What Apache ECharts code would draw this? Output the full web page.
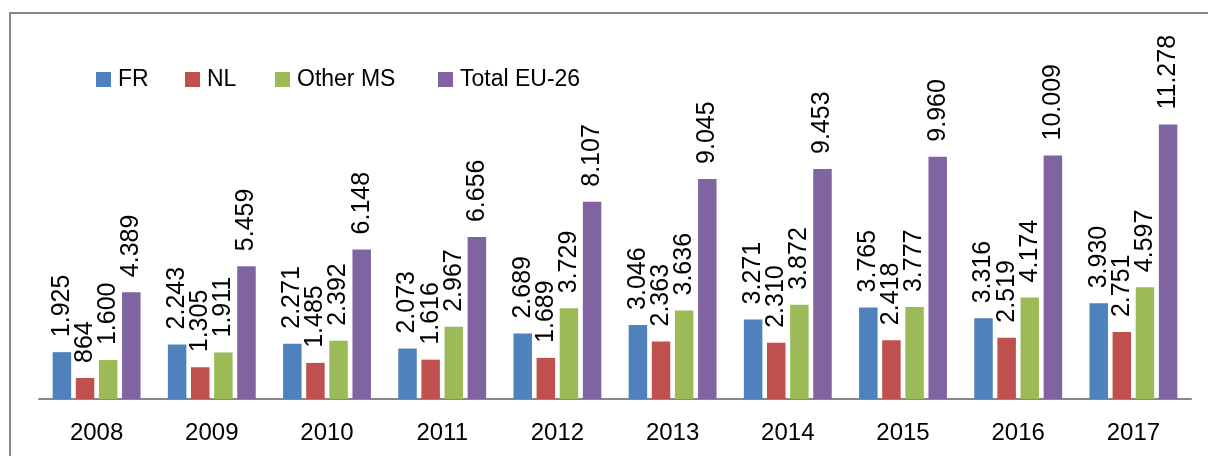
<!DOCTYPE html>
<html>
<head>
<meta charset="utf-8">
<style>
  html, body { margin: 0; padding: 0; background: #ffffff; }
  #chart { width: 1208px; height: 456px; }
</style>
<script src="https://cdn.jsdelivr.net/npm/echarts@6/dist/echarts.min.js"></script>
</head>
<body>
<div id="chart"></div>
<script>
// Years shown on the category axis
const years = ['2008', '2009', '2010', '2011', '2012', '2013', '2014', '2015', '2016', '2017'];

// Values per series
const frValues = [1925, 2243, 2271, 2073, 2689, 3046, 3271, 3765, 3316, 3930];
const nlValues = [864, 1305, 1485, 1616, 1689, 2363, 2310, 2418, 2519, 2751];
const otherMsValues = [1600, 1911, 2392, 2967, 3729, 3636, 3872, 3777, 4174, 4597];
const totalEuValues = [4389, 5459, 6148, 6656, 8107, 9045, 9453, 9960, 10009, 11278];

const seriesNames = ['FR', 'NL', 'Other MS', 'Total EU-26'];
const seriesColors = ['#4F81BD', '#C0504D', '#9BBB59', '#8064A2'];
const seriesValues = [frValues, nlValues, otherMsValues, totalEuValues];

const FONT = '"Liberation Sans", Arial, sans-serif';

// European style thousands separator: 11278 -> "11.278"
function formatThousands(v) {
  return String(v).replace(/\B(?=(\d{3})+(?!\d))/g, '.');
}

const chart = echarts.init(document.getElementById('chart'), null, { renderer: 'canvas' });

// One legend per entry so each item sits at its own horizontal position
const legendLefts = [96, 185, 275, 438];
const legends = seriesNames.map((name, i) => ({
  data: [name],
  left: legendLefts[i],
  top: 68,
  padding: 0,
  icon: 'rect',
  itemWidth: 15,
  itemHeight: 15,
  itemGap: 0,
  textStyle: { fontFamily: FONT, fontSize: 23, color: '#000000', padding: [0, 0, 0, 2] },
  selectedMode: false
}));

const series = seriesNames.map((name, i) => ({
  name: name,
  type: 'bar',
  data: seriesValues[i],
  barWidth: 18.5,
  barGap: '25%',
  itemStyle: { color: seriesColors[i] },
  label: {
    show: true,
    position: 'top',
    rotate: 90,
    align: 'left',
    verticalAlign: 'middle',
    distance: 15,
    fontFamily: FONT,
    fontSize: 25,
    color: '#000000',
    formatter: p => formatThousands(p.value)
  },
  emphasis: { disabled: true },
  animation: false
}));

chart.setOption({
  animation: false,
  backgroundColor: '#ffffff',
  // Frame around the chart area
  graphic: [{
    type: 'rect',
    shape: { x: 10, y: 13, width: 1220, height: 470 },
    style: { fill: null, stroke: '#888888', lineWidth: 2 },
    silent: true,
    z: -1
  }],
  legend: legends,
  grid: { left: 39, right: 17, top: 107, bottom: 57, containLabel: false },
  xAxis: {
    type: 'category',
    data: years,
    axisLine: { show: true, lineStyle: { color: '#888888', width: 2 } },
    axisTick: { show: false },
    axisLabel: { fontFamily: FONT, fontSize: 24, color: '#000000', margin: 22 }
  },
  yAxis: {
    type: 'value',
    min: 0,
    max: 12000,
    show: false,
    splitLine: { show: false }
  },
  series: series
});
</script>
</body>
</html>
